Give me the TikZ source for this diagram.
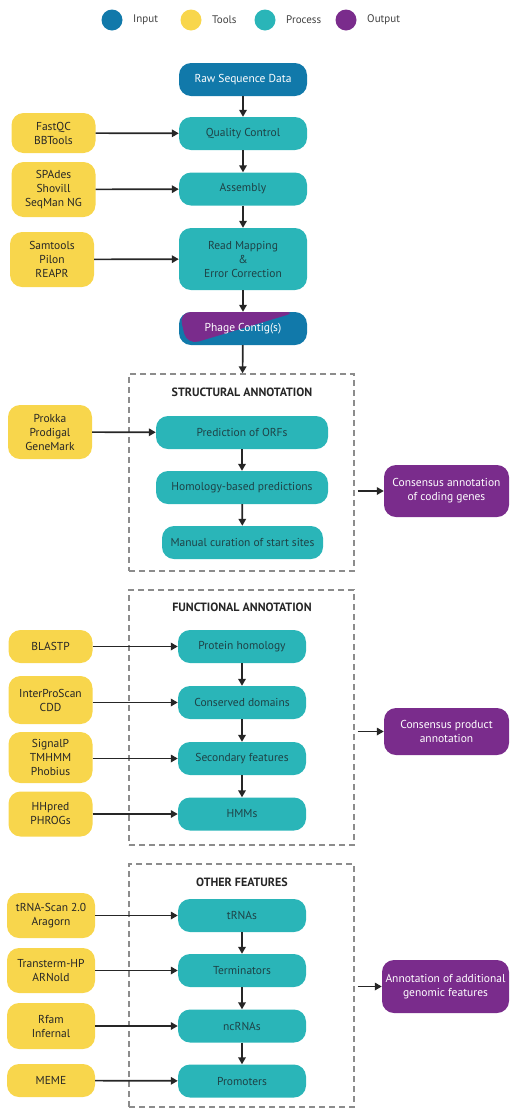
\documentclass[tikz,border=0pt]{standalone}
\usepackage{fontspec}
\setmainfont{PT Sans}
\usetikzlibrary{arrows.meta}

\definecolor{PipeBlue}{RGB}{17, 121, 170}
\definecolor{PipeYellow}{RGB}{248, 214, 76}
\definecolor{PipeTeal}{RGB}{42, 181, 184}
\definecolor{PipePurple}{RGB}{122, 44, 140}
\definecolor{PipeText}{RGB}{30, 66, 70}
\definecolor{PipeGrey}{RGB}{140, 140, 140}

\begin{document}
\begin{tikzpicture}[x=1pt, y=-1pt, font=\fontsize{11.5}{14}\selectfont,
    box/.style={rounded corners=12pt, align=center, inner sep=2pt},
    tool/.style={box, fill=PipeYellow, text=black!85, minimum width=84pt},
    proc/.style={box, fill=PipeTeal, text=PipeText, minimum width=128pt, minimum height=33pt},
    outp/.style={box, fill=PipePurple, text=white, minimum width=126pt},
    grp/.style={draw=PipeGrey, dash pattern=on 6pt off 4pt, line width=1.3pt, inner sep=0pt, minimum width=225pt},
    head/.style={font=\fontsize{12}{14}\selectfont\bfseries, text=black!85},
    dot/.style={circle, minimum size=21pt, inner sep=0pt},
    leg/.style={anchor=west, text=black!75, font=\fontsize{11}{13}\selectfont},
    arr/.style={-{Triangle[length=7pt, width=7.5pt]}, line width=1.7pt, black!85}]

\useasboundingbox (0,0) rectangle (509,1109);

% legend
\node[dot, fill=PipeBlue] (lin) at (112,20) {};
\node[leg] (linT) at ([xshift=7pt]lin.east) {Input};
\node[dot, fill=PipeYellow] (ltool) at (191,20) {};
\node[leg] (ltoolT) at ([xshift=7pt]ltool.east) {Tools};
\node[dot, fill=PipeTeal] (lproc) at (265,20) {};
\node[leg] (lprocT) at ([xshift=7pt]lproc.east) {Process};
\node[dot, fill=PipePurple] (lout) at (346,20) {};
\node[leg] (loutT) at ([xshift=7pt]lout.east) {Output};

% assembly part
\node[proc, fill=PipeBlue, text=white] (raw) at (243,79.5) {Raw Sequence Data};
\node[proc] (qc) at (243,133.5) {Quality Control};
\node[proc] (asm) at (243,189) {Assembly};
\node[proc, minimum height=62pt] (rm) at (243,259) {Read Mapping\\\&\\Error Correction};
\node[proc, fill=PipeBlue, text=white, path picture={
    \fill[PipePurple] ([xshift=8pt]path picture bounding box.south west)
      -- (path picture bounding box.north west)
      -- ([xshift=-10pt]path picture bounding box.north east) -- cycle;}]
  (pc) at (243,328.5) {Phage Contig(s)};

\node[tool, minimum height=40pt] (fastqc) at (53.5,133) {FastQC\\BBTools};
\node[tool, minimum height=55pt] (spades) at (53.5,189.5) {SPAdes\\Shovill\\SeqMan NG};
\node[tool, minimum height=55pt] (samtools) at (52,259.5) {Samtools\\Pilon\\REAPR};

\draw[arr] (raw) -- (qc);
\draw[arr] (qc) -- (asm);
\draw[arr] (asm) -- (rm);
\draw[arr] (rm) -- (pc);
\draw[arr] (fastqc) -- (qc);
\draw[arr] (spades) -- (asm);
\draw[arr] (samtools) -- (rm);

% structural annotation
\node[grp, minimum height=197pt] (sbox) at (241.5,472.5) {};
\node[head] (shead) at (242,392) {STRUCTURAL ANNOTATION};
\node[proc, minimum width=172pt] (orf) at (242,432.5) {Prediction of ORFs};
\node[proc, minimum width=172pt] (hom) at (242,487.5) {Homology-based predictions};
\node[proc, minimum width=161pt] (man) at (242.5,542.5) {Manual curation of start sites};
\node[tool, minimum height=54pt] (prokka) at (50,432) {Prokka\\Prodigal\\GeneMark};
\node[outp, minimum width=125pt, minimum height=52pt] (cons1) at (446.5,491) {Consensus annotation\\of coding genes};

\draw[arr] (pc) -- (sbox);
\draw[arr] (orf) -- (hom);
\draw[arr] (hom) -- (man);
\draw[arr] (prokka) -- (orf);
\draw[arr] ([xshift=3pt]sbox.east |- cons1.west) -- (cons1.west);

% functional annotation
\node[grp, minimum height=255pt] (fbox) at (241.5,717.5) {};
\node[head] (fhead) at (242,607) {FUNCTIONAL ANNOTATION};
\node[proc] (prot) at (242,646.5) {Protein homology};
\node[proc] (cdom) at (242,702.5) {Conserved domains};
\node[proc] (sec) at (242,758.5) {Secondary features};
\node[proc] (hmm) at (242,814) {HMMs};
\node[tool, minimum height=33pt] (blastp) at (50.5,646.5) {BLASTP};
\node[tool, minimum height=48pt] (ips) at (50.5,700) {InterProScan\\CDD};
\node[tool, minimum height=51pt] (sigp) at (50.5,757.5) {SignalP\\TMHMM\\Phobius};
\node[tool, minimum height=45pt] (hhp) at (50.5,814) {HHpred\\PHROGs};
\node[outp, minimum width=125pt, minimum height=47pt] (cons2) at (446.5,731.5) {Consensus product\\annotation};

\draw[arr] (prot) -- (cdom);
\draw[arr] (cdom) -- (sec);
\draw[arr] (sec) -- (hmm);
\draw[arr] (blastp) -- (prot);
\draw[arr] (ips.east |- cdom) -- (cdom);
\draw[arr] (sigp.east |- sec) -- (sec);
\draw[arr] (hhp) -- (hmm);
\draw[arr] ([xshift=3pt]fbox.east |- cons2.west) -- (cons2.west);

% other features
\node[grp, minimum height=243pt] (obox) at (241.5,985.5) {};
\node[head] (ohead) at (242,882) {OTHER FEATURES};
\node[proc] (trna) at (242,915.5) {tRNAs};
\node[proc] (term) at (242,970.5) {Terminators};
\node[proc] (ncrna) at (242,1026) {ncRNAs};
\node[proc] (prom) at (242,1081) {Promoters};
\node[tool, minimum width=88pt, minimum height=45pt] (trs) at (51,915.5) {tRNA-Scan 2.0\\Aragorn};
\node[tool, minimum width=88pt, minimum height=45pt] (tht) at (51,970.5) {Transterm-HP\\ARNold};
\node[tool, minimum width=88pt, minimum height=46pt] (rfam) at (51,1026) {Rfam\\Infernal};
\node[tool, minimum width=88pt, minimum height=33pt] (meme) at (51,1080.5) {MEME};
\node[outp, minimum width=127pt, minimum height=53pt] (cons3) at (445.5,986.5) {Annotation of additional\\genomic features};

\draw[arr] (trna) -- (term);
\draw[arr] (term) -- (ncrna);
\draw[arr] (ncrna) -- (prom);
\draw[arr] (trs) -- (trna);
\draw[arr] (tht) -- (term);
\draw[arr] (rfam) -- (ncrna);
\draw[arr] (meme) -- (prom);
\draw[arr] ([xshift=3pt]obox.east |- cons3.west) -- (cons3.west);

\end{tikzpicture}
\end{document}
